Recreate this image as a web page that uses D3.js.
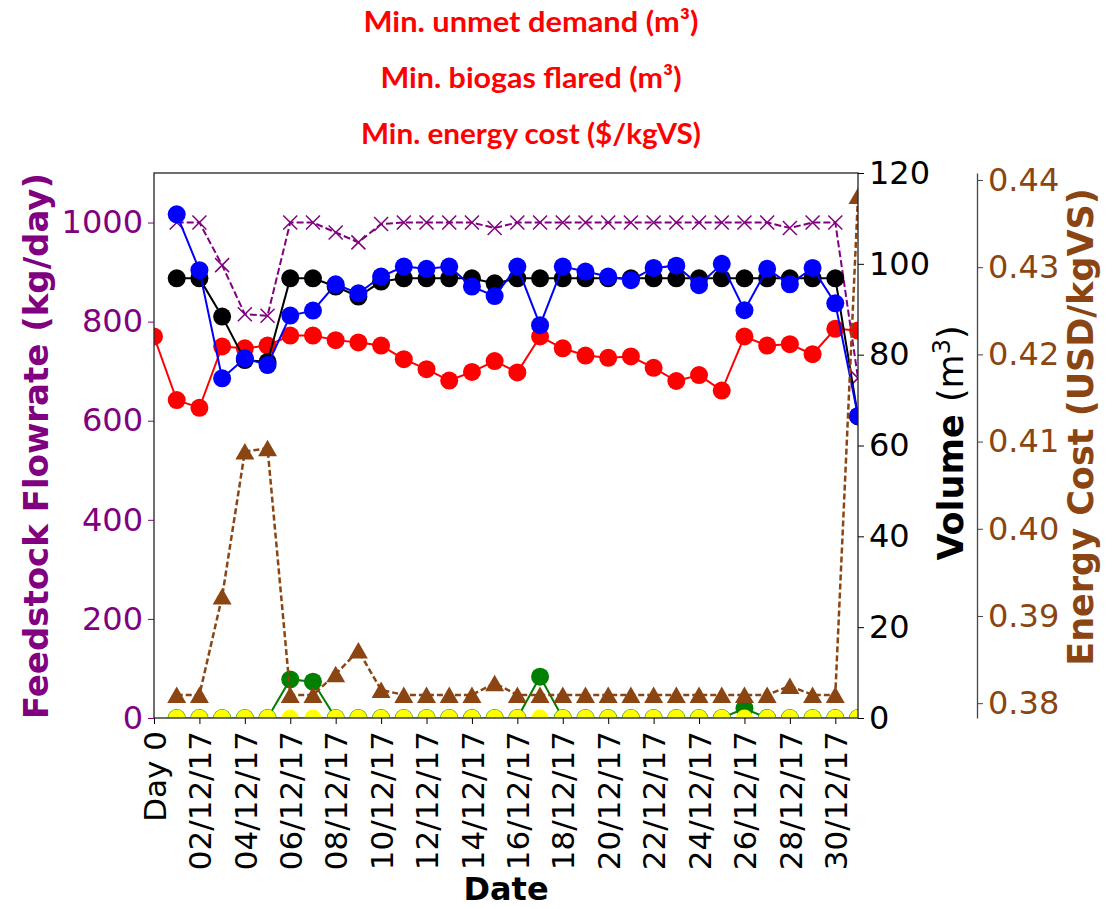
<!DOCTYPE html>
<html>
<head>
<meta charset="utf-8">
<script src="https://cdn.jsdelivr.net/npm/d3@7"></script>
<style>
  body { margin: 0; background: #fff; }
  svg text { font-family: "DejaVu Sans", sans-serif; }
</style>
</head>
<body>
<div id="chart"></div>
<script>
// x ticks (day index) and their labels
var tickDays = [0, 2, 4, 6, 8, 10, 12, 14, 16, 18, 20, 22, 24, 26, 28, 30];
var tickLabels = ["Day 0", "02/12/17", "04/12/17", "06/12/17", "08/12/17", "10/12/17",
  "12/12/17", "14/12/17", "16/12/17", "18/12/17", "20/12/17", "22/12/17",
  "24/12/17", "26/12/17", "28/12/17", "30/12/17"];

var days = [1, 2, 3, 4, 5, 6, 7, 8, 9, 10, 11, 12, 13, 14, 15, 16,
  17, 18, 19, 20, 21, 22, 23, 24, 25, 26, 27, 28, 29, 30, 31];
var redDays = [0].concat(days);

// feedstock flowrate, kg/day (left axis)
var feedstock = [1000, 1000, 914, 815, 812, 1000, 1000, 980, 960, 997, 1000, 1000, 1000, 1000, 989,
  1000, 1000, 1000, 1000, 1000, 1000, 1000, 1000, 1000, 1000, 1000, 1000, 989, 1000, 1000, 686];

// volumes, m3 (right axis)
var volRed = [84.0, 70.0, 68.3, 81.8, 81.4, 82.0, 84.2, 84.2, 83.2, 82.7, 82.0, 79.0, 76.8, 74.3, 76.2, 78.6,
  76.1, 84.0, 81.4, 79.8, 79.3, 79.6, 77.1, 74.2, 75.5, 72.1, 84.0, 82.0, 82.3, 80.1, 85.7, 85.3];
var volBlack = [96.8, 96.8, 88.4, 78.8, 78.4, 96.8, 96.8, 95.0, 92.8, 96.1, 96.8, 96.8, 96.8, 96.8, 95.7,
  96.8, 96.8, 96.8, 96.8, 96.8, 96.8, 96.8, 96.8, 96.8, 96.8, 96.8, 96.8, 96.8, 96.8, 96.8, 66.4];
var volBlue = [110.9, 98.6, 74.8, 79.2, 77.7, 88.6, 89.7, 95.5, 93.5, 97.2, 99.4, 98.9, 99.4, 95.0, 92.9,
  99.4, 86.5, 99.4, 98.3, 97.2, 96.4, 99.1, 99.6, 95.3, 100.0, 89.8, 98.9, 95.5, 99.1, 91.3, 66.5];
var volGreen = [0, 0, 0, 0, 0, 8.5, 8.0, 0, 0, 0, 0, 0, 0, 0, 0,
  0, 9.1, 0, 0, 0, 0, 0, 0, 0, 0, 2.1, 0, 0, 0, 0, 0];
var volYellow = [0, 0, 0, 0, 0, 0, 0, 0, 0, 0, 0, 0, 0, 0, 0,
  0, 0, 0, 0, 0, 0, 0, 0, 0, 0, 0, 0, 0, 0, 0, 0];

// energy cost, USD/kgVS (third axis)
var energyCost = [0.38095, 0.38095, 0.39222, 0.40885, 0.40924, 0.38095, 0.38095, 0.38332, 0.38603, 0.38152,
  0.38095, 0.38095, 0.38095, 0.38095, 0.38229, 0.38095, 0.38095, 0.38095, 0.38095, 0.38095, 0.38095,
  0.38095, 0.38095, 0.38095, 0.38095, 0.38095, 0.38095, 0.38198, 0.38095, 0.38095, 0.43816];

var feedTicks = [0, 200, 400, 600, 800, 1000];
var volTicks = [0, 20, 40, 60, 80, 100, 120];
var costTicks = [0.38, 0.39, 0.40, 0.41, 0.42, 0.43, 0.44];

var titles = ["Min. unmet demand (m³)", "Min. biogas flared (m³)", "Min. energy cost ($/kgVS)"];

var width = 1119, height = 909;
var pLeft = 154, pRight = 858, pTop = 173, pBottom = 718;
var purple = "#800080", brown = "#8b4513";

var svg = d3.select("#chart").append("svg")
  .attr("width", width)
  .attr("height", height);

var x = d3.scaleLinear().domain([0, 31]).range([pLeft, pRight]);
var yFeed = d3.scaleLinear().domain([0, 1100]).range([pBottom, pTop]);
var yVol = d3.scaleLinear().domain([0, 120]).range([pBottom, pTop]);
var yCost = d3.scaleLinear().domain([0.3783, 0.4408]).range([pBottom, pTop]);

svg.append("clipPath").attr("id", "plotclip")
  .append("rect")
    .attr("x", pLeft).attr("y", pTop)
    .attr("width", pRight - pLeft).attr("height", pBottom - pTop);

// titles
var titleWidths = [335, 301, 340], titleBase = [32, 88, 144];
titles.forEach(function(t, i) {
  svg.append("text")
    .attr("x", 531).attr("y", titleBase[i])
    .attr("text-anchor", "middle")
    .style("font-family", "Lato, 'Open Sans', sans-serif")
    .style("font-weight", "bold")
    .attr("font-size", "29px")
    .attr("fill", "#ff0000")
    .attr("textLength", titleWidths[i])
    .attr("lengthAdjust", "spacingAndGlyphs")
    .text(t);
});

var plot = svg.append("g").attr("clip-path", "url(#plotclip)");

function drawSeries(xs, ys, yScale, opt) {
  var g = plot.append("g");
  var pts = xs.map(function(d, i) { return [x(d), yScale(ys[i])]; });
  g.append("path")
    .attr("d", d3.line()(pts))
    .attr("fill", "none")
    .attr("stroke", opt.color)
    .attr("stroke-width", opt.lw || 2)
    .attr("stroke-dasharray", opt.dash || null);
  var m = g.selectAll(".m").data(pts).enter();
  if (opt.marker == "circle") {
    m.append("circle")
      .attr("cx", function(p) { return p[0]; })
      .attr("cy", function(p) { return p[1]; })
      .attr("r", opt.r || 9)
      .attr("fill", opt.fill || opt.color);
  } else if (opt.marker == "x") {
    m.append("path")
      .attr("transform", function(p) { return "translate(" + p[0] + "," + p[1] + ")"; })
      .attr("d", "M-7,-7L7,7M-7,7L7,-7")
      .attr("stroke", opt.color)
      .attr("stroke-width", 1.5);
  } else if (opt.marker == "tri") {
    m.append("path")
      .attr("transform", function(p) { return "translate(" + p[0] + "," + p[1] + ")"; })
      .attr("d", "M0,-8.5L9.5,8L-9.5,8Z")
      .attr("fill", opt.color);
  }
}

drawSeries(days, feedstock, yFeed, {color: purple, dash: "7,3", marker: "x"});
drawSeries(redDays, volRed, yVol, {color: "#ff0000", marker: "circle"});
drawSeries(days, volBlack, yVol, {color: "#000000", marker: "circle"});
drawSeries(days, volBlue, yVol, {color: "#0000ff", marker: "circle"});
drawSeries(days, volGreen, yVol, {color: "#008000", marker: "circle"});
drawSeries(days, volYellow, yVol, {color: "#b5c93a", fill: "#ffff00", marker: "circle", r: 8.5});
drawSeries(days, energyCost, yCost, {color: brown, dash: "6,3", lw: 2.5, marker: "tri"});

// frame
svg.append("rect")
  .attr("x", pLeft).attr("y", pTop)
  .attr("width", pRight - pLeft).attr("height", pBottom - pTop)
  .attr("fill", "none")
  .attr("stroke", "#222")
  .attr("stroke-width", 1.3);

// x axis
var xAxis = svg.append("g")
  .attr("transform", "translate(0," + pBottom + ")")
  .call(d3.axisBottom(x).tickValues(tickDays)
    .tickFormat(function(d, i) { return tickLabels[i]; })
    .tickSize(6).tickSizeOuter(0));
xAxis.select(".domain").remove();
xAxis.selectAll("text")
  .attr("transform", "rotate(-90)")
  .attr("text-anchor", "end")
  .attr("x", -13).attr("y", 0)
  .attr("dy", "0.36em")
  .attr("font-size", "31px")
  .attr("fill", "#000")
  .style("font-family", "'DejaVu Sans', sans-serif");

// left axis
var yAxisL = svg.append("g")
  .attr("transform", "translate(" + pLeft + ",0)")
  .call(d3.axisLeft(yFeed).tickValues(feedTicks)
    .tickFormat(d3.format("d"))
    .tickSize(6).tickPadding(5).tickSizeOuter(0));
yAxisL.select(".domain").remove();
yAxisL.selectAll("line").attr("stroke", purple);
yAxisL.selectAll("text")
  .attr("fill", purple)
  .attr("font-size", "32px")
  .style("font-family", "'DejaVu Sans', sans-serif");

// volume axis
var yAxisV = svg.append("g")
  .attr("transform", "translate(" + pRight + ",0)")
  .call(d3.axisRight(yVol).tickValues(volTicks)
    .tickSize(6).tickPadding(5).tickSizeOuter(0));
yAxisV.select(".domain").remove();
yAxisV.selectAll("text")
  .attr("fill", "#000")
  .attr("font-size", "32px")
  .style("font-family", "'DejaVu Sans', sans-serif");

// energy cost axis
var yAxisC = svg.append("g")
  .attr("transform", "translate(977,0)")
  .call(d3.axisRight(yCost).tickValues(costTicks)
    .tickFormat(d3.format(".2f"))
    .tickSize(6).tickPadding(5).tickSizeOuter(0));
yAxisC.select(".domain").attr("stroke", "#444").attr("stroke-width", 1.3);
yAxisC.selectAll("line").attr("stroke", "#444");
yAxisC.selectAll("text")
  .attr("fill", brown)
  .attr("font-size", "32px")
  .style("font-family", "'DejaVu Sans', sans-serif");

// axis titles
svg.append("text")
  .attr("transform", "translate(48,446) rotate(-90)")
  .attr("text-anchor", "middle")
  .attr("font-size", "34px")
  .attr("font-weight", "bold")
  .attr("fill", purple)
  .text("Feedstock Flowrate (kg/day)");

var volLabel = svg.append("text")
  .attr("transform", "translate(963,443) rotate(-90)")
  .attr("text-anchor", "middle")
  .attr("font-size", "35px")
  .attr("fill", "#000");
volLabel.append("tspan").attr("font-weight", "bold").text("Volume ");
volLabel.append("tspan").text("(m");
volLabel.append("tspan").attr("font-size", "24px").attr("dy", "-13").text("3");
volLabel.append("tspan").attr("dy", "13").text(")");

svg.append("text")
  .attr("transform", "translate(1093,427) rotate(-90)")
  .attr("text-anchor", "middle")
  .attr("font-size", "35px")
  .attr("font-weight", "bold")
  .attr("fill", brown)
  .text("Energy Cost (USD/kgVS)");

svg.append("text")
  .attr("x", (pLeft + pRight) / 2).attr("y", 900)
  .attr("text-anchor", "middle")
  .attr("font-size", "32px")
  .attr("font-weight", "bold")
  .attr("fill", "#000")
  .text("Date");
</script>
</body>
</html>
